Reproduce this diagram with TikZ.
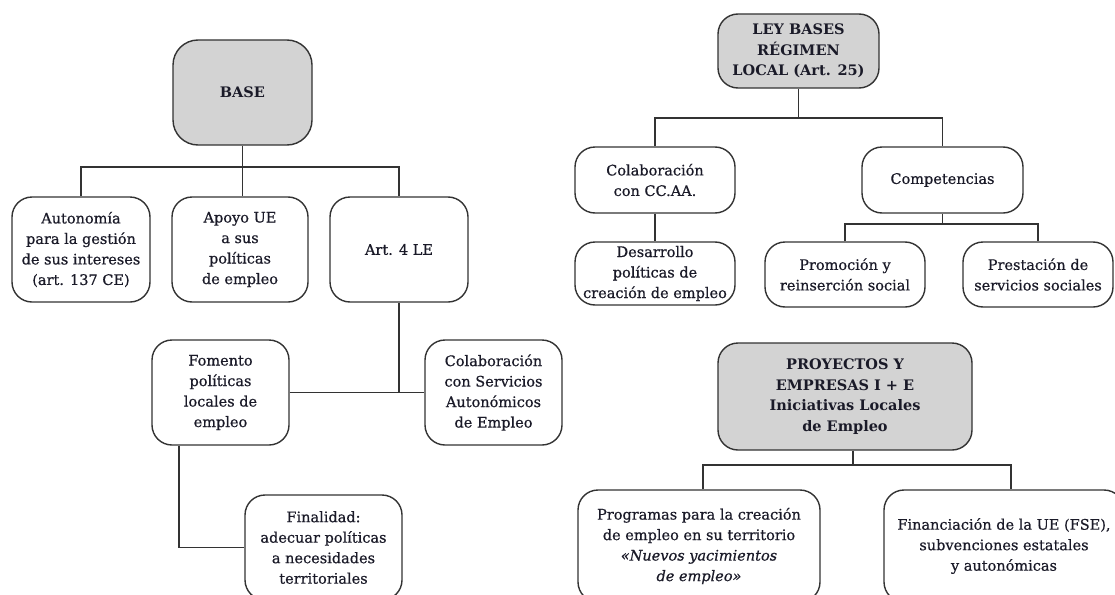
\documentclass[tikz,border=0pt]{standalone}
\usepackage{fontspec}
\setmainfont{DejaVu Serif}[UprightFeatures={FakeBold=0.6}, ItalicFeatures={FakeBold=0.6}]
\usetikzlibrary{calc}
\definecolor{txt}{HTML}{1A1A28}
\definecolor{edge}{HTML}{333333}
\definecolor{hdfill}{HTML}{D3D3D3}
\tikzset{
  box/.style={draw=edge, line width=1.4pt, rounded corners=20pt, fill=white, text=txt, align=center,
    font=\fontsize{14.5}{20.5}\selectfont, inner sep=2pt},
  head/.style={box, fill=hdfill, font=\fontsize{14.5}{20.5}\selectfont\bfseries},
  link/.style={draw=edge, line width=1.8pt},
}
\begin{document}
\begin{tikzpicture}[x=1pt,y=-1pt]
\useasboundingbox[fill=white] (0,0) rectangle (1115,594);
\begin{scope}
\clip (0,0) rectangle (1115,594);
% left part
\node[head, rounded corners=25pt, minimum width=139pt, minimum height=105pt] (base) at (242.5,92.5) {BASE};
\node[box, minimum width=138pt, minimum height=105pt] (auto) at (81,249.5) {Autonomía\\para la gestión\\de sus intereses\\(art. 137 CE)};
\node[box, minimum width=136pt, minimum height=105pt] (apoyo) at (240,249.5) {Apoyo UE\\a sus\\políticas\\de empleo};
\node[box, minimum width=138pt, minimum height=105pt] (art4) at (399,249.5) {Art. 4 LE};
\node[box, minimum width=137pt, minimum height=105pt] (fom) at (220.5,392.5) {Fomento\\políticas\\locales de\\empleo};
\node[box, minimum width=137pt, minimum height=105pt] (colab) at (493.5,392.5) {Colaboración\\con Servicios\\Autonómicos\\de Empleo};
\node[box, minimum width=157pt, minimum height=105pt] (fin1) at (323.5,547.5) {Finalidad:\\adecuar políticas\\a necesidades\\territoriales};
% right part
\node[head, minimum width=161pt, minimum height=74pt] (ley) at (798.5,51) {LEY BASES\\RÉGIMEN\\LOCAL (Art. 25)};
\node[box, minimum width=160pt, minimum height=66pt] (colcc) at (655,180) {Colaboración\\con CC.AA.};
\node[box, minimum width=161pt, minimum height=66pt] (comp) at (942.5,180) {Competencias};
\node[box, minimum width=160pt, minimum height=63pt] (desa) at (655,273.5) {Desarrollo\\políticas de\\creación de empleo};
\node[box, minimum width=160pt, minimum height=65pt] (prom) at (845,274.5) {Promoción y\\reinserción social};
\node[box, minimum width=150pt, minimum height=65pt] (prest) at (1038,274.5) {Prestación de\\servicios sociales};
\node[head, minimum width=254pt, minimum height=107pt] (proy) at (845,396.5) {PROYECTOS Y\\EMPRESAS I + E\\Iniciativas Locales\\de Empleo};
\node[box, minimum width=242pt, minimum height=112pt] (prog) at (699,546) {Programas para la creación\\de empleo en su territorio\\\textit{«Nuevos yacimientos}\\\textit{de empleo»}};
\node[box, minimum width=240pt, minimum height=112pt] (fina) at (1004,546) {Financiación de la UE (FSE),\\subvenciones estatales\\y autonómicas};
% connectors left
\coordinate (b1) at (242.5,167);
\draw[link] (base.south) -- (base.south |- apoyo.north);
\draw[link] (auto.north) |- (b1) -| (art4.north);
\draw[link] (fom.east) -- (colab.west);
\draw[link] (art4.south) -- (art4.south |- fom.east);
\draw[link] ($(fom.south west)+(28,0)$) |- (fin1.west);
% connectors right
\coordinate (b2) at (798.5,118);
\draw[link] (ley.south) -- (b2);
\draw[link] (colcc.north) |- (b2) -| (comp.north);
\draw[link] (colcc.south) -- (desa.north);
\coordinate (b3) at (942.5,224);
\draw[link] (comp.south) -- (b3);
\draw[link] (prom.north) |- (b3) -| (prest.north);
\coordinate (b4) at (853,465);
\draw[link] ($(proy.south)+(8,0)$) -- (b4);
\draw[link] ($(prog.north)+(4,0)$) |- (b4) -| ($(fina.north)+(7,0)$);
\end{scope}
\end{tikzpicture}
\end{document}
